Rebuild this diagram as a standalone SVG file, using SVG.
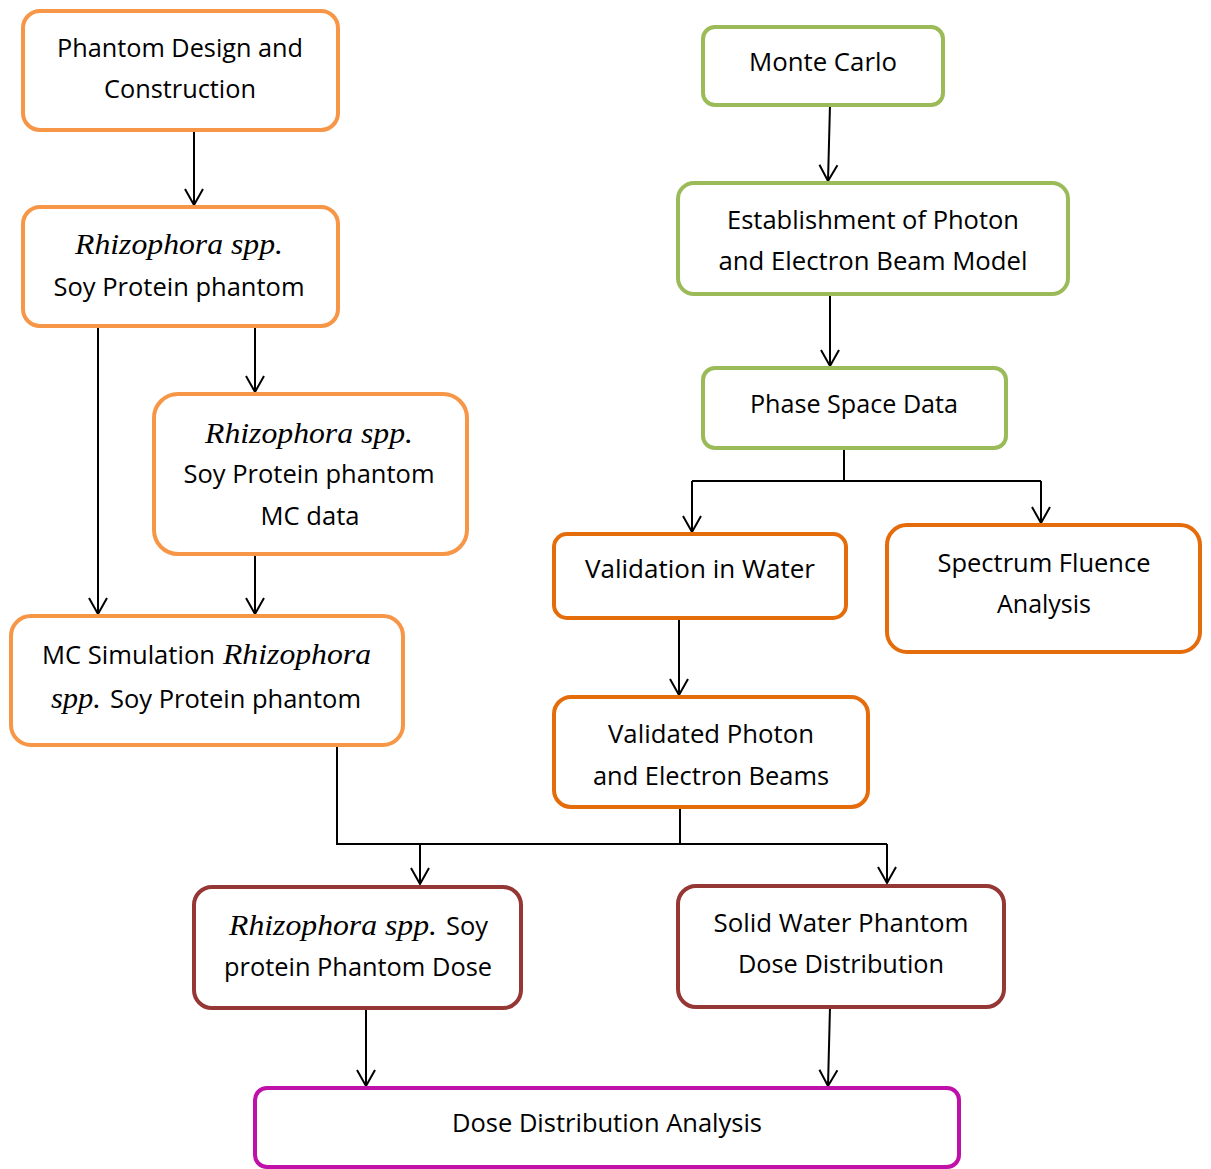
<svg xmlns="http://www.w3.org/2000/svg" width="1211" height="1169" viewBox="0 0 1211 1169">
<style>
.box{fill:#fff;stroke-width:4}
.lo{stroke:#F79646}
.gr{stroke:#9BBB59}
.do{stroke:#E46C0A}
.br{stroke:#953735}
.mg{stroke:#BF10A9}
.t{font-family:"Open Sans","Liberation Sans",sans-serif;font-size:25px;fill:#000;text-anchor:middle}
.ts{font-family:"Open Sans","Liberation Sans",sans-serif;font-size:25px;fill:#000}
.i{font-family:"Liberation Serif","Times New Roman",serif;font-style:italic;font-size:30px;fill:#000}
.c{fill:none;stroke:#000;stroke-width:2}
</style>
<defs>
<marker id="ah" markerUnits="userSpaceOnUse" markerWidth="40" markerHeight="40" refX="0" refY="0" orient="auto" overflow="visible">
<path d="M-16,-9 L0,0 L-16,9" fill="none" stroke="#000" stroke-width="2"/>
</marker>
</defs>
<rect width="1211" height="1169" fill="#fff"/>
<g id="connectors">
<path class="c" d="M194,130 V205" marker-end="url(#ah)"/>
<path class="c" d="M98,326 V614" marker-end="url(#ah)"/>
<path class="c" d="M255,326 V392" marker-end="url(#ah)"/>
<path class="c" d="M255,554 V614" marker-end="url(#ah)"/>
<path class="c" d="M830,105 L828,181" marker-end="url(#ah)"/>
<path class="c" d="M830,294 V366" marker-end="url(#ah)"/>
<path class="c" d="M844,448 V481"/>
<path class="c" d="M692,481 H1041"/>
<path class="c" d="M692,481 V532" marker-end="url(#ah)"/>
<path class="c" d="M1041,481 V523" marker-end="url(#ah)"/>
<path class="c" d="M679,618 V695" marker-end="url(#ah)"/>
<path class="c" d="M337,745 V844 H887"/>
<path class="c" d="M680,807 V844"/>
<path class="c" d="M420,844 V884" marker-end="url(#ah)"/>
<path class="c" d="M887,844 V883" marker-end="url(#ah)"/>
<path class="c" d="M366,1008 V1086" marker-end="url(#ah)"/>
<path class="c" d="M830,1007 L828,1086" marker-end="url(#ah)"/>
</g>
<g id="phantom-design">
<rect class="box lo" x="23" y="11" width="315" height="119" rx="17"/>
<text class="t" x="180" y="57" textLength="246" lengthAdjust="spacingAndGlyphs">Phantom Design and</text>
<text class="t" x="180" y="98" textLength="152" lengthAdjust="spacingAndGlyphs">Construction</text>
</g>
<g id="soy-phantom">
<rect class="box lo" x="23" y="207" width="315" height="119" rx="17"/>
<text class="i" x="179" y="254" text-anchor="middle" textLength="208" lengthAdjust="spacingAndGlyphs">Rhizophora spp.</text>
<text class="t" x="179" y="296" textLength="251" lengthAdjust="spacingAndGlyphs">Soy Protein phantom</text>
</g>
<g id="soy-mc-data">
<rect class="box lo" x="154" y="394" width="313" height="160" rx="24"/>
<text class="i" x="309" y="443" text-anchor="middle" textLength="208" lengthAdjust="spacingAndGlyphs">Rhizophora spp.</text>
<text class="t" x="309" y="483" textLength="251" lengthAdjust="spacingAndGlyphs">Soy Protein phantom</text>
<text class="t" x="310" y="525" textLength="99" lengthAdjust="spacingAndGlyphs">MC data</text>
</g>
<g id="mc-simulation">
<rect class="box lo" x="11" y="616" width="392" height="129" rx="20"/>
<text class="ts" x="42" y="664" textLength="173" lengthAdjust="spacingAndGlyphs">MC Simulation</text>
<text class="i" x="223" y="664" textLength="148" lengthAdjust="spacingAndGlyphs">Rhizophora</text>
<text class="i" x="51" y="708" textLength="50" lengthAdjust="spacingAndGlyphs">spp.</text>
<text class="ts" x="110" y="708" textLength="251" lengthAdjust="spacingAndGlyphs">Soy Protein phantom</text>
</g>
<g id="monte-carlo">
<rect class="box gr" x="703" y="27" width="240" height="78" rx="12"/>
<text class="t" x="823" y="71" textLength="148" lengthAdjust="spacingAndGlyphs">Monte Carlo</text>
</g>
<g id="beam-model">
<rect class="box gr" x="678" y="183" width="390" height="111" rx="16"/>
<text class="t" x="873" y="229" textLength="292" lengthAdjust="spacingAndGlyphs">Establishment of Photon</text>
<text class="t" x="873" y="270" textLength="309" lengthAdjust="spacingAndGlyphs">and Electron Beam Model</text>
</g>
<g id="phase-space">
<rect class="box gr" x="703" y="368" width="303" height="80" rx="12"/>
<text class="t" x="854" y="413" textLength="208" lengthAdjust="spacingAndGlyphs">Phase Space Data</text>
</g>
<g id="validation-water">
<rect class="box do" x="554" y="534" width="292" height="84" rx="13"/>
<text class="t" x="700" y="578" textLength="230" lengthAdjust="spacingAndGlyphs">Validation in Water</text>
</g>
<g id="spectrum-fluence">
<rect class="box do" x="887" y="525" width="313" height="127" rx="20"/>
<text class="t" x="1044" y="572" textLength="213" lengthAdjust="spacingAndGlyphs">Spectrum Fluence</text>
<text class="t" x="1044" y="613" textLength="94" lengthAdjust="spacingAndGlyphs">Analysis</text>
</g>
<g id="validated-beams">
<rect class="box do" x="554" y="697" width="314" height="110" rx="17"/>
<text class="t" x="711" y="743" textLength="206" lengthAdjust="spacingAndGlyphs">Validated Photon</text>
<text class="t" x="711" y="785" textLength="236" lengthAdjust="spacingAndGlyphs">and Electron Beams</text>
</g>
<g id="soy-dose">
<rect class="box br" x="194" y="887" width="327" height="121" rx="18"/>
<text class="i" x="229" y="935" textLength="208" lengthAdjust="spacingAndGlyphs">Rhizophora spp.</text>
<text class="ts" x="446" y="935" textLength="42" lengthAdjust="spacingAndGlyphs">Soy</text>
<text class="t" x="358" y="976" textLength="268" lengthAdjust="spacingAndGlyphs">protein Phantom Dose</text>
</g>
<g id="solid-water-dose">
<rect class="box br" x="678" y="886" width="326" height="121" rx="18"/>
<text class="t" x="841" y="932" textLength="255" lengthAdjust="spacingAndGlyphs">Solid Water Phantom</text>
<text class="t" x="841" y="973" textLength="206" lengthAdjust="spacingAndGlyphs">Dose Distribution</text>
</g>
<g id="dose-analysis">
<rect class="box mg" x="255" y="1088" width="704" height="79" rx="12"/>
<text class="t" x="607" y="1132" textLength="310" lengthAdjust="spacingAndGlyphs">Dose Distribution Analysis</text>
</g>
</svg>
